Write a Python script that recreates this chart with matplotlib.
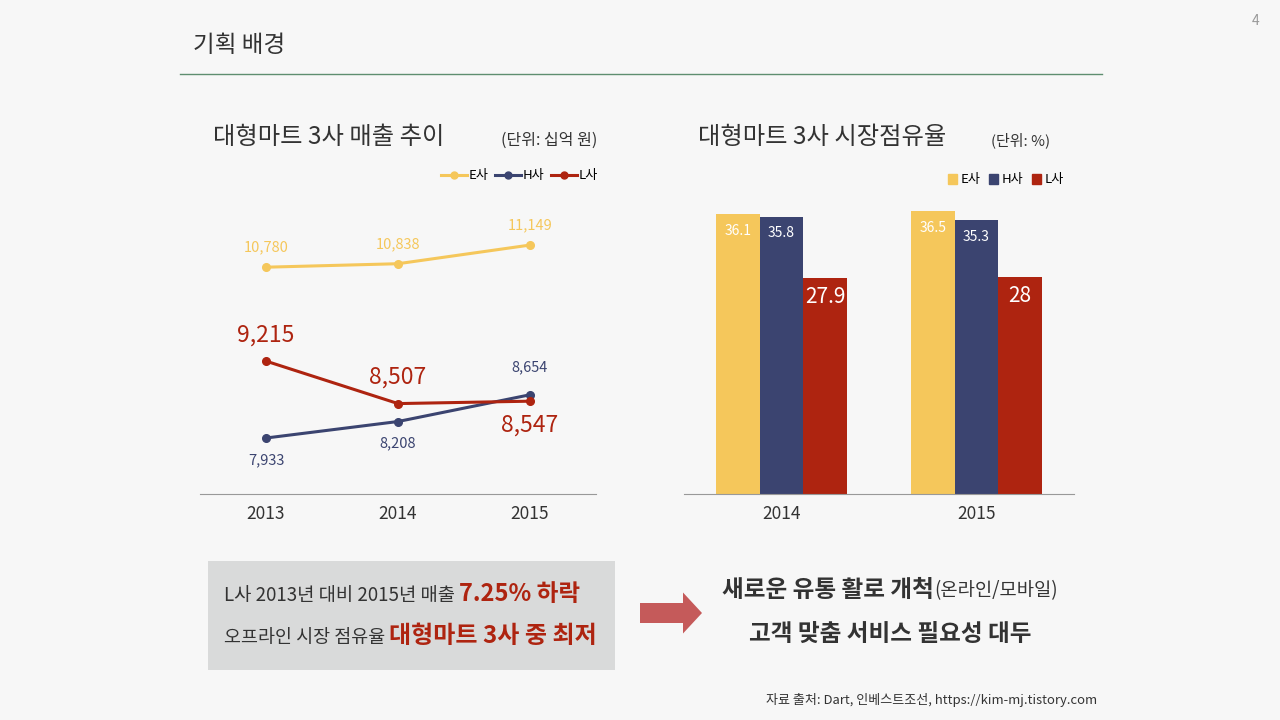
import matplotlib
matplotlib.use("Agg")
import matplotlib.pyplot as plt
from matplotlib.lines import Line2D
from matplotlib.patches import Rectangle, FancyArrow

plt.rcParams['font.family'] = ['Noto Sans CJK KR', 'DejaVu Sans']

# 매출 추이 (십억 원)
years = ["2013", "2014", "2015"]
e_sales = [10780, 10838, 11149]
h_sales = [7933, 8208, 8654]
l_sales = [9215, 8507, 8547]

# 시장점유율 (%)
share_years = ["2014", "2015"]
e_share = [36.1, 36.5]
h_share = [35.8, 35.3]
l_share = [27.9, 28]
share_labels_l = ["27.9", "28"]

c_e = "#F5C75B"
c_h = "#3B4470"
c_l = "#AE2410"
txt = "#333333"
bg = "#F7F7F7"

W, H = 1280, 720
fig = plt.figure(figsize=(12.8, 7.2), dpi=100)
fig.patch.set_facecolor(bg)
renderer = fig.canvas.get_renderer()


def fx(x):
    return x / W


def fy(y):
    return 1 - y / H


def box(x0, y0, x1, y1):
    return [fx(x0), fy(y1), (x1 - x0) / W, (y1 - y0) / H]


def right_edge(t):
    bb = t.get_window_extent(renderer)
    return bb.x1


def text_width(t):
    return t.get_window_extent(renderer).width


# 헤더
fig.text(fx(193), fy(45), "기획 배경", fontsize=17, color=txt, va="center")
fig.add_artist(Line2D([fx(180), fx(1102)], [fy(74), fy(74)], color="#5E8E70", lw=1))
fig.text(fx(1256), fy(21), "4", fontsize=10, color="#999999", va="center", ha="center")

# ---- 왼쪽: 매출 추이 ----
ax1 = fig.add_axes(box(200, 194, 596, 494))
ax1.set_facecolor(bg)
xs = range(len(years))
ax1.plot(xs, e_sales, color=c_e, lw=2.2, marker="o", ms=5.5)
ax1.plot(xs, h_sales, color=c_h, lw=2.2, marker="o", ms=5.5)
ax1.plot(xs, l_sales, color=c_l, lw=2.2, marker="o", ms=5.5)
ax1.set_xlim(-0.5, 2.5)
ax1.set_ylim(7000, 12000)
ax1.set_xticks(list(xs))
ax1.set_xticklabels(years, fontsize=12.5, color=txt)
ax1.set_yticks([])
ax1.tick_params(axis="x", length=0, pad=8)
for s in ["top", "right", "left"]:
    ax1.spines[s].set_visible(False)
ax1.spines["bottom"].set_color("#999999")

e_off = [14, 14, 14]
h_off = [-16, -16, 20]
l_off = [19, 19, -17]
for i in xs:
    ax1.annotate(f"{e_sales[i]:,}", (i, e_sales[i]), xytext=(0, e_off[i]), textcoords="offset points",
                 ha="center", va="center", fontsize=10.5, color=c_e)
    ax1.annotate(f"{h_sales[i]:,}", (i, h_sales[i]), xytext=(0, h_off[i]), textcoords="offset points",
                 ha="center", va="center", fontsize=10.5, color=c_h)
    ax1.annotate(f"{l_sales[i]:,}", (i, l_sales[i]), xytext=(0, l_off[i]), textcoords="offset points",
                 ha="center", va="center", fontsize=16.5, color=c_l)

fig.text(fx(213), fy(137), "대형마트 3사 매출 추이", fontsize=17.5, color=txt, va="center", weight="medium")
fig.text(fx(501), fy(140), "(단위: 십억 원)", fontsize=11.5, color=txt, va="center")
h1 = [Line2D([], [], color=c, lw=2.2, marker="o", ms=5) for c in (c_e, c_h, c_l)]
fig.legend(h1, ["E사", "H사", "L사"], loc="center right", bbox_to_anchor=(fx(610), fy(176)),
           ncol=3, frameon=False, fontsize=9.5, handlelength=2.0, handletextpad=0.1, columnspacing=0.5)

# ---- 오른쪽: 시장점유율 ----
ax2 = fig.add_axes(box(684, 184, 1074, 494))
ax2.set_facecolor(bg)
bw = 0.223
xb = list(range(len(share_years)))
ax2.bar([x - bw for x in xb], e_share, bw, color=c_e)
ax2.bar(xb, h_share, bw, color=c_h)
ax2.bar([x + bw for x in xb], l_share, bw, color=c_l)
ax2.set_xlim(-0.5, 1.5)
ax2.set_ylim(0, 40)
ax2.set_xticks(xb)
ax2.set_xticklabels(share_years, fontsize=12.5, color=txt, weight="medium")
ax2.set_yticks([])
ax2.tick_params(axis="x", length=0, pad=8)
for s in ["top", "right", "left"]:
    ax2.spines[s].set_visible(False)
ax2.spines["bottom"].set_color("#999999")
for i in xb:
    ax2.annotate(f"{e_share[i]}", (i - bw, e_share[i]), xytext=(0, -12), textcoords="offset points",
                 ha="center", va="center", fontsize=10, color="white")
    ax2.annotate(f"{h_share[i]}", (i, h_share[i]), xytext=(0, -12), textcoords="offset points",
                 ha="center", va="center", fontsize=10, color="white")
    ax2.annotate(share_labels_l[i], (i + bw, l_share[i]), xytext=(0, -14), textcoords="offset points",
                 ha="center", va="center", fontsize=15, color="white")

fig.text(fx(698), fy(137), "대형마트 3사 시장점유율", fontsize=17.5, color=txt, va="center", weight="medium")
fig.text(fx(991), fy(140), "(단위: %)", fontsize=10.8, color=txt, va="center")
h2 = [Rectangle((0, 0), 1, 1, color=c) for c in (c_e, c_h, c_l)]
fig.legend(h2, ["E사", "H사", "L사"], loc="center right", bbox_to_anchor=(fx(1076), fy(180)),
           ncol=3, frameon=False, fontsize=9.5, handlelength=0.7, handleheight=0.7,
           handletextpad=0.3, columnspacing=0.6)

# ---- 하단 요약 ----
fig.add_artist(Rectangle((fx(208), fy(670)), (615 - 208) / W, (670 - 561) / H,
                         transform=fig.transFigure, color="#D9DADA", lw=0))
t = fig.text(fx(224), fy(596), "L사 2013년 대비 2015년 매출 ", fontsize=13.5, color=txt, va="center")
fig.text(right_edge(t) / W, fy(594), "7.25% 하락", fontsize=17, color=c_l, va="center", weight="bold")
t = fig.text(fx(224), fy(638), "오프라인 시장 점유율 ", fontsize=13.3, color=txt, va="center")
fig.text(right_edge(t) / W, fy(636), "대형마트 3사 중 최저", fontsize=17.3, color=c_l, va="center", weight="bold")

fig.add_artist(FancyArrow(fx(640), fy(613), (683 - 640) / W, 0, width=20 / H,
                          head_width=41 / H, head_length=19 / W, length_includes_head=False,
                          transform=fig.transFigure, color="#C55A5A", lw=0))

# 오른쪽 결론 두 줄 (첫 줄은 두 조각을 이어서 가운데 정렬)
t1 = fig.text(0, fy(590), "새로운 유통 활로 개척", fontsize=17, color=txt, va="center", weight="bold")
t2 = fig.text(0, fy(591), "(온라인/모바일)", fontsize=13.5, color=txt, va="center")
w1, w2 = text_width(t1), text_width(t2)
x_start = 890 - (w1 + w2) / 2
t1.set_x(fx(x_start))
t2.set_x(fx(x_start + w1))
fig.text(fx(890), fy(634), "고객 맞춤 서비스 필요성 대두", fontsize=17, color=txt, va="center",
         ha="center", weight="bold")

fig.text(fx(1097), fy(700), "자료 출처: Dart, 인베스트조선, https://kim-mj.tistory.com", fontsize=9.4,
         color=txt, va="center", ha="right")

fig.savefig("out.png", dpi=100, facecolor=bg)
